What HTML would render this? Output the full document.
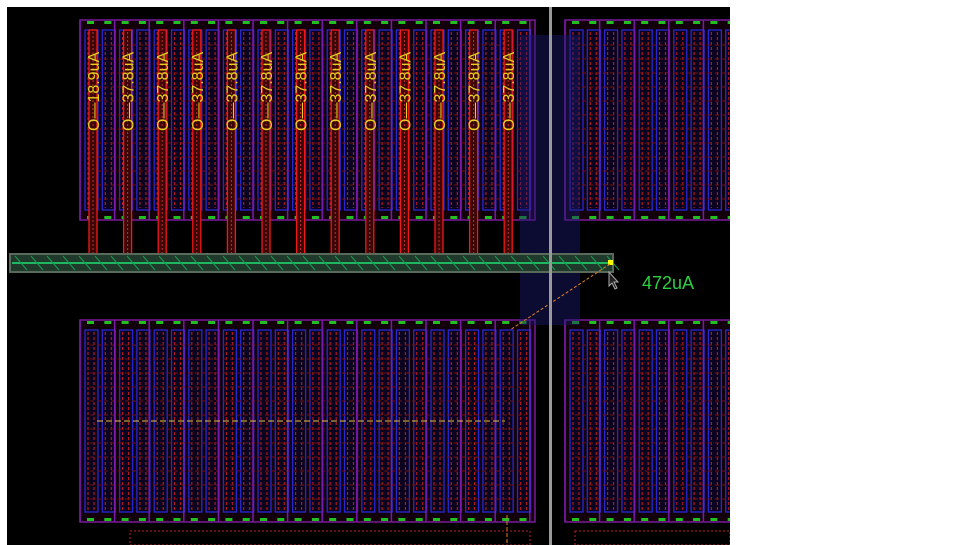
<!DOCTYPE html><html><head><style>html,body{margin:0;padding:0;background:#fff;width:960px;height:545px;overflow:hidden}svg{display:block}</style></head><body>
<svg id="s" width="960" height="545" xmlns="http://www.w3.org/2000/svg" font-family="Liberation Sans, sans-serif">
<defs><clipPath id="c"><rect x="7" y="7" width="723" height="538"/></clipPath></defs>
<rect x="7" y="7" width="723" height="538" fill="#000"/>
<g clip-path="url(#c)">
<g id="g"></g>
<rect x="520" y="35" width="60" height="290" fill="#1a1a70" opacity="0.45"/>
<rect x="10" y="254" width="603" height="18" fill="#1f3a2a" stroke="#5a6a5a" stroke-width="2"/>
<line x1="12" y1="263" x2="611" y2="263" stroke="#1db860" stroke-width="2"/>
<g id="h"></g>
<rect x="608" y="260" width="5" height="5" fill="#ff0"/>
<line x1="610" y1="264" x2="510" y2="330" stroke="#e08020" stroke-dasharray="3,2"/>
<line x1="507" y1="515" x2="507" y2="545" stroke="#e08020" stroke-dasharray="4,2"/>
<line x1="97" y1="421" x2="505" y2="421" stroke="#f0c040" stroke-dasharray="6,3"/>
<path d="M609 272 l0 14 l3 -3 l3 6 l2 -1 l-3 -6 l4 0 z" fill="#222" stroke="#aaa"/>
<text x="642" y="289" fill="#2fd040" font-size="18">472uA</text>
<rect x="549" y="7" width="3" height="538" fill="#999"/>
<rect x="130" y="531" width="400" height="14" fill="none" stroke="#c02020" stroke-dasharray="2,2"/>
<rect x="575" y="531" width="155" height="14" fill="none" stroke="#c02020" stroke-dasharray="2,2"/>
</g>
</svg>
<script>
var g=document.getElementById('g'),h=document.getElementById('h'),ns='http://www.w3.org/2000/svg';
function el(p,t,a,tx){var e=document.createElementNS(ns,t);for(var k in a)e.setAttribute(k,a[k]);if(tx)e.textContent=tx;p.appendChild(e);return e;}
function block(x0,x1,y0,y1){
 el(g,'rect',{x:x0,y:y0,width:x1-x0,height:y1-y0,fill:'#12000a',stroke:'#7a1a9a','stroke-width':1.5});
 for(var x=x0+5;x<x1-5;x+=17.3){
  el(g,'rect',{x:x,y:y0+10,width:13,height:y1-y0-20,fill:'#0a0420',stroke:'#2828d0','stroke-width':1.3});
  el(g,'line',{x1:x+3,y1:y0+12,x2:x+3,y2:y1-12,stroke:'#b01818','stroke-dasharray':'3,2','stroke-width':1.2});
  el(g,'line',{x1:x+9,y1:y0+12,x2:x+9,y2:y1-12,stroke:'#b01818','stroke-dasharray':'3,2','stroke-width':1.2});
  el(g,'rect',{x:x+2,y:y0+1,width:7,height:3,fill:'#20c020'});
  el(g,'rect',{x:x+2,y:y1-4,width:7,height:3,fill:'#20c020'});
 }
 for(var yy=y0+25;yy<y1-15;yy+=14) el(g,'line',{x1:x0+10,y1:yy,x2:x1-10,y2:yy,stroke:'#701010','stroke-dasharray':'4,3','stroke-width':1});
 for(var x=x0;x<x1;x+=34.6) el(g,'line',{x1:x,y1:y0,x2:x,y2:y1,stroke:'#7a1aaa','stroke-width':1.5});
}
block(80,535,20,220);block(565,745,20,220);block(80,535,320,522);block(565,745,320,522);
var labs=['O\u201418.9uA'];for(var i=1;i<13;i++)labs.push('O\u201437.8uA');
for(var i=0;i<13;i++){var x=89+i*34.6;
 el(g,'rect',{x:x,y:30,width:8,height:242,fill:'#3a0606',stroke:'#f01818','stroke-width':1.3});
 el(g,'line',{x1:x+4,y1:32,x2:x+4,y2:270,stroke:'#c03030','stroke-dasharray':'2,2'});
 el(g,'text',{x:0,y:0,fill:'#e8d020','font-size':16,transform:'translate('+(x+10)+',131) rotate(-90)'},labs[i]);
}
for(var x=15;x<610;x+=16) el(h,'line',{x1:x,y1:256,x2:x+12,y2:270,stroke:'#1a9a50','stroke-width':1});
</script>
</body></html>
